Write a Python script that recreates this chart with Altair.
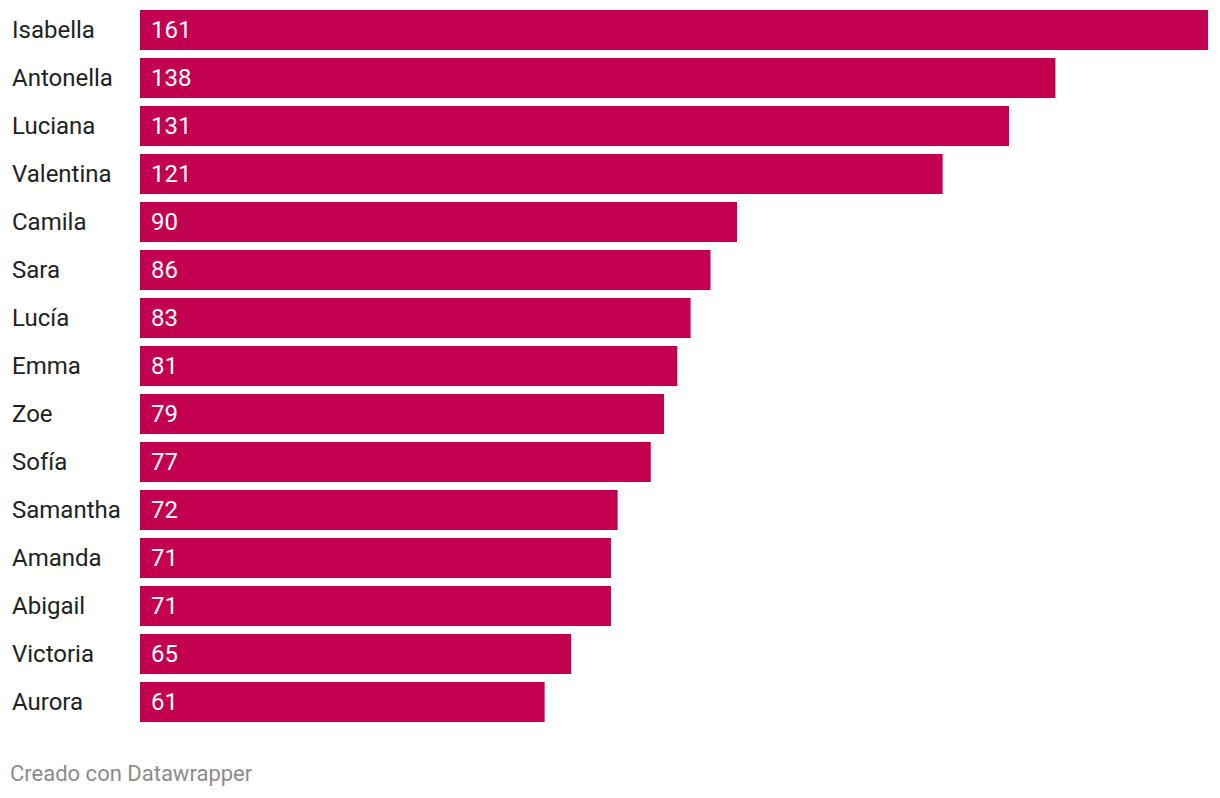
import altair as alt
import pandas as pd

names = ["Isabella", "Antonella", "Luciana", "Valentina", "Camila", "Sara", "Lucía",
         "Emma", "Zoe", "Sofía", "Samantha", "Amanda", "Abigail", "Victoria", "Aurora"]
values = [161, 138, 131, 121, 90, 86, 83, 81, 79, 77, 72, 71, 71, 65, 61]

df = pd.DataFrame({"name": names, "value": values})

FONT = "Roboto"
y_enc = alt.Y("name:N", sort=names, axis=None,
              scale=alt.Scale(paddingInner=8/48, paddingOuter=0))

base = alt.Chart(df).encode(y=y_enc)

bars = base.mark_bar(color="#c2004f").encode(
    x=alt.X("value:Q", axis=None, scale=alt.Scale(domain=[0, 161], nice=False, zero=True))
)

labels = base.mark_text(align="left", baseline="middle", font=FONT, fontSize=24,
                        color="#222222", dy=1).encode(
    x=alt.value(-128), text="name:N")

vals = base.mark_text(align="left", baseline="middle", font=FONT, fontSize=24,
                      color="#ffffff", dy=1).encode(
    x=alt.value(11), text="value:Q")

footer = alt.Chart(pd.DataFrame({"t": ["Creado con Datawrapper"]})).mark_text(
    align="left", baseline="middle", font=FONT, fontSize=22, color="#8c8c8c"
).encode(x=alt.value(-130), y=alt.value(764), text="t:N")

chart = alt.layer(bars, labels, vals, footer).properties(
    width=1068, height=712,
    background="white",
    autosize=alt.AutoSizeParams(type="none"),
    padding={"left": 132, "top": 2, "right": 4, "bottom": 76},
).configure_view(stroke=None)

chart.save("out.html", embed_options={"renderer": "svg", "actions": False})
